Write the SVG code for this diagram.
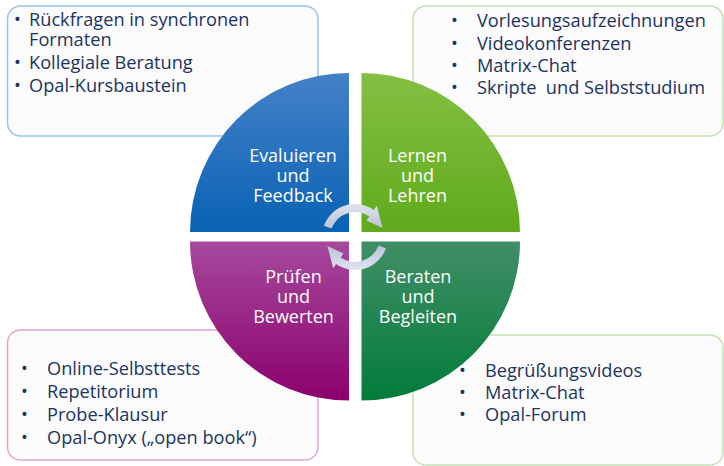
<svg xmlns="http://www.w3.org/2000/svg" width="724" height="466" viewBox="0 0 724 466">
<defs>
<linearGradient id="gBlue" x1="0" y1="0" x2="0" y2="1"><stop offset="0" stop-color="#4581c8"/><stop offset="1" stop-color="#0962b4"/></linearGradient>
<linearGradient id="gGreen" x1="0" y1="0" x2="0" y2="1"><stop offset="0" stop-color="#84c043"/><stop offset="1" stop-color="#60aa1c"/></linearGradient>
<linearGradient id="gPurple" x1="0" y1="0" x2="0" y2="1"><stop offset="0" stop-color="#a6499d"/><stop offset="1" stop-color="#8b006d"/></linearGradient>
<linearGradient id="gDark" x1="0" y1="0" x2="0" y2="1"><stop offset="0" stop-color="#418e66"/><stop offset="1" stop-color="#027c3b"/></linearGradient>
<linearGradient id="gArrow" x1="0" y1="0" x2="0" y2="1"><stop offset="0" stop-color="#dfe4ee"/><stop offset="1" stop-color="#b9c3d6"/></linearGradient>
<style>
.box{fill:#fbfbfb;stroke-width:1.5}
.t{font-family:"Open Sans","Noto Sans","DejaVu Sans",sans-serif;font-size:18.2px;fill:#1b3560}
.q{font-family:"Open Sans","Noto Sans","DejaVu Sans",sans-serif;font-size:18px;fill:#ffffff;text-anchor:middle}
.arr{fill:url(#gArrow)}
</style>
</defs>
<g id="box-evaluieren">
<rect class="box" x="7.5" y="6" width="310.5" height="130" rx="13" stroke="#9dc3e6"/>
<text class="t" x="14" y="26">•</text><text class="t" x="29" y="26">Rückfragen in synchronen</text>
<text class="t" x="29" y="46">Formaten</text>
<text class="t" x="14" y="69">•</text><text class="t" x="29" y="69">Kollegiale Beratung</text>
<text class="t" x="14" y="92">•</text><text class="t" x="29" y="92">Opal-Kursbaustein</text>
</g>
<g id="box-lernen">
<rect class="box" x="413" y="6" width="310" height="130" rx="13" stroke="#c5e0b4"/>
<text class="t" x="451" y="27">•</text><text class="t" x="477" y="27">Vorlesungsaufzeichnungen</text>
<text class="t" x="451" y="50">•</text><text class="t" x="477" y="50">Videokonferenzen</text>
<text class="t" x="451" y="72">•</text><text class="t" x="477" y="72">Matrix-Chat</text>
<text class="t" x="451" y="94">•</text><text class="t" x="477" y="94" xml:space="preserve">Skripte  und Selbststudium</text>
</g>
<g id="box-pruefen">
<rect class="box" x="7.5" y="330" width="310.5" height="130" rx="13" stroke="#dba8d3"/>
<text class="t" x="21" y="375">•</text><text class="t" x="47" y="375">Online-Selbsttests</text>
<text class="t" x="21" y="398">•</text><text class="t" x="47" y="398">Repetitorium</text>
<text class="t" x="21" y="421">•</text><text class="t" x="47" y="421">Probe-Klausur</text>
<text class="t" x="21" y="444">•</text><text class="t" x="47" y="444">Opal-Onyx („open book“)</text>
</g>
<g id="box-beraten">
<rect class="box" x="413" y="335" width="310" height="130" rx="13" stroke="#c5e0b4"/>
<text class="t" x="459" y="377">•</text><text class="t" x="485" y="377">Begrüßungsvideos</text>
<text class="t" x="459" y="399">•</text><text class="t" x="485" y="399">Matrix-Chat</text>
<text class="t" x="459" y="421">•</text><text class="t" x="485" y="421">Opal-Forum</text>
</g>
<g id="q-evaluieren">
<path d="M349 232 L190 232 A159 159 0 0 1 349 73 Z" fill="url(#gBlue)"/>
<text class="q" x="293" y="162">Evaluieren</text>
<text class="q" x="293" y="182">und</text>
<text class="q" x="293" y="202">Feedback</text>
</g>
<g id="q-lernen">
<path d="M361.5 232 L361.5 73 A158.5 159 0 0 1 520 232 Z" fill="url(#gGreen)"/>
<text class="q" x="417.5" y="162">Lernen</text>
<text class="q" x="417.5" y="182">und</text>
<text class="q" x="417.5" y="202">Lehren</text>
</g>
<g id="q-beraten">
<path d="M361.5 241.5 L520 241.5 A158.5 159 0 0 1 361.5 400.5 Z" fill="url(#gDark)"/>
<text class="q" x="418" y="283">Beraten</text>
<text class="q" x="418" y="303">und</text>
<text class="q" x="418" y="323">Begleiten</text>
</g>
<g id="q-pruefen">
<path d="M349 241.5 L349 400.5 A159 159 0 0 1 190 241.5 Z" fill="url(#gPurple)"/>
<text class="q" x="293.5" y="283">Prüfen</text>
<text class="q" x="293.5" y="303">und</text>
<text class="q" x="293.5" y="323">Bewerten</text>
</g>
<g id="connectors">
<path class="arr" d="M323.99 225.71 A33 33 0 0 1 373.93 209.97 L376.80 205.87 L382.58 228.04 L366.47 220.62 L369.34 216.52 A25 25 0 0 0 331.51 228.45 Z"/>
<path class="arr" d="M323.99 225.71 A33 33 0 0 1 373.93 209.97 L376.80 205.87 L382.58 228.04 L366.47 220.62 L369.34 216.52 A25 25 0 0 0 331.51 228.45 Z" transform="rotate(180 355 237)"/>
</g>
</svg>
